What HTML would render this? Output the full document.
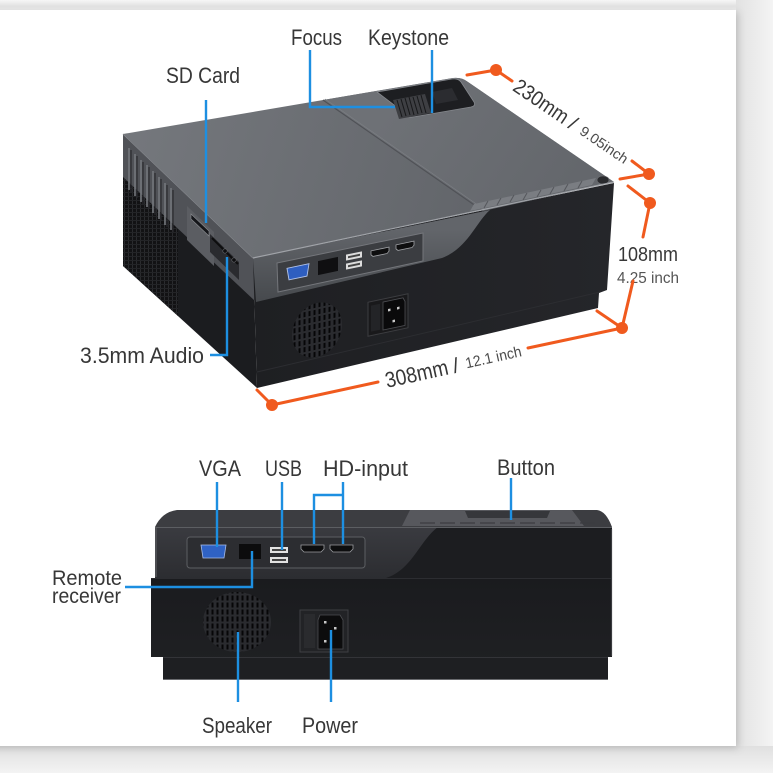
<!DOCTYPE html>
<html><head><meta charset="utf-8">
<style>
html,body{margin:0;padding:0;width:773px;height:773px;overflow:hidden;background:#f2f2f2;}
svg{position:absolute;left:0;top:0;display:block;}
text{font-family:"Liberation Sans",sans-serif;fill:#373737;}
</style></head><body>
<svg width="773" height="773" viewBox="0 0 773 773" xmlns="http://www.w3.org/2000/svg">
<defs>
  <linearGradient id="rstrip" x1="0" y1="0" x2="1" y2="0">
    <stop offset="0" stop-color="#e2e2e2"/><stop offset="1" stop-color="#f4f4f4"/>
  </linearGradient>
  <linearGradient id="bstrip" x1="0" y1="0" x2="0" y2="1">
    <stop offset="0" stop-color="#e0e0e0"/><stop offset="1" stop-color="#f3f3f3"/>
  </linearGradient>
  <linearGradient id="tstrip" x1="0" y1="0" x2="0" y2="1">
    <stop offset="0" stop-color="#f6f6f6"/><stop offset="0.5" stop-color="#e3e3e3"/><stop offset="1" stop-color="#f4f4f4"/>
  </linearGradient>
  <linearGradient id="topface" gradientUnits="userSpaceOnUse" x1="140" y1="120" x2="500" y2="230">
    <stop offset="0" stop-color="#74777c"/><stop offset="1" stop-color="#616469"/>
  </linearGradient>
  <linearGradient id="topface2" gradientUnits="userSpaceOnUse" x1="400" y1="90" x2="560" y2="200">
    <stop offset="0" stop-color="#6e7176"/><stop offset="1" stop-color="#64676c"/>
  </linearGradient>
  <linearGradient id="frontband" gradientUnits="userSpaceOnUse" x1="0" y1="230" x2="0" y2="300">
    <stop offset="0" stop-color="#62656a"/><stop offset="1" stop-color="#474a4e"/>
  </linearGradient>
  <linearGradient id="blackbody" gradientUnits="userSpaceOnUse" x1="250" y1="0" x2="615" y2="0">
    <stop offset="0" stop-color="#1e1f22"/><stop offset="1" stop-color="#25262a"/>
  </linearGradient>
  <linearGradient id="bband" gradientUnits="userSpaceOnUse" x1="0" y1="527" x2="0" y2="578">
    <stop offset="0" stop-color="#3a3b40"/><stop offset="1" stop-color="#2c2d31"/>
  </linearGradient>
  <linearGradient id="bbody" gradientUnits="userSpaceOnUse" x1="0" y1="578" x2="0" y2="680">
    <stop offset="0" stop-color="#1a1b1e"/><stop offset="1" stop-color="#202124"/>
  </linearGradient>
  <pattern id="grill" width="5" height="7" patternUnits="userSpaceOnUse">
    <rect x="0" y="0" width="5" height="7" fill="#2a2b2f"/>
    <rect x="1.5" y="0.5" width="2" height="5" fill="#060607"/>
  </pattern>
  <pattern id="grid" width="4" height="4" patternUnits="userSpaceOnUse">
    <rect width="4" height="4" fill="#121214"/>
    <rect x="0" y="0" width="1" height="4" fill="#2a2b2e"/>
    <rect x="0" y="0" width="4" height="1" fill="#232427"/>
  </pattern>
  <filter id="cardsh" x="-5%" y="-5%" width="110%" height="110%">
    <feDropShadow dx="2" dy="2" stdDeviation="4" flood-color="#000" flood-opacity="0.18"/>
  </filter>
</defs>

<!-- background strips / card -->
<rect x="0" y="0" width="773" height="773" fill="#f2f2f2"/>
<rect x="0" y="0" width="773" height="12" fill="url(#tstrip)"/>
<rect x="736" y="0" width="37" height="773" fill="url(#rstrip)"/>
<rect x="0" y="746" width="773" height="27" fill="url(#bstrip)"/>
<rect x="-12" y="10" width="748" height="736" fill="#ffffff" filter="url(#cardsh)"/>

<!-- ================= TOP PROJECTOR ================= -->
<!-- left face -->
<path d="M123,134 L253,258 L257,388 L123,266 Z" fill="#1b1c1f"/>
<path d="M123,177 L178,229 L178,316 L123,266 Z" fill="url(#grid)"/>
<path d="M123,134 L253,258 L256,302 L123,177 Z" fill="#505257"/>
<g stroke="#74777c" stroke-width="1.6">
  <line x1="129" y1="148" x2="129" y2="190"/>
  <line x1="135" y1="154" x2="135" y2="196"/>
  <line x1="141" y1="160" x2="141" y2="202"/>
  <line x1="147" y1="165" x2="147" y2="207"/>
  <line x1="153" y1="171" x2="153" y2="213"/>
  <line x1="159" y1="177" x2="159" y2="219"/>
  <line x1="165" y1="183" x2="165" y2="225"/>
  <line x1="171" y1="188" x2="171" y2="230"/>
</g>
<g stroke="#2a2b2e" stroke-width="1.2">
  <line x1="131" y1="150" x2="131" y2="192"/>
  <line x1="137" y1="156" x2="137" y2="198"/>
  <line x1="143" y1="162" x2="143" y2="204"/>
  <line x1="149" y1="167" x2="149" y2="209"/>
  <line x1="155" y1="173" x2="155" y2="215"/>
  <line x1="161" y1="179" x2="161" y2="221"/>
  <line x1="167" y1="185" x2="167" y2="227"/>
  <line x1="173" y1="190" x2="173" y2="232"/>
</g>
<!-- SD card area -->
<path d="M187,206 L214,232 L214,266 L187,240 Z" fill="#5b5d62"/>
<path d="M191,214 L209,231 L209,236 L191,219 Z" fill="#15161a" stroke="#8a8c90" stroke-width="0.6"/>
<path d="M210,234 L239,262 L239,280 L210,252 Z" fill="#2a2b2f"/>
<line x1="212" y1="238" x2="238" y2="264" stroke="#0d0d0e" stroke-width="2"/>
<circle cx="225" cy="251" r="2.2" fill="#0e0e10" stroke="#6a6c70" stroke-width="0.6"/>
<circle cx="234" cy="260" r="2.2" fill="#0e0e10" stroke="#6a6c70" stroke-width="0.6"/>
<line x1="123" y1="134" x2="253" y2="258" stroke="#8a8d92" stroke-width="1"/>

<!-- front face black body -->
<path d="M253,258 L614,183 L607,290 L599,293 L598,308 L257,388 Z" fill="url(#blackbody)"/>
<line x1="257" y1="372" x2="600" y2="292" stroke="#2c2d31" stroke-width="1"/>
<!-- front grey band -->
<path d="M253,258 L490,210 C476,222 468,248 442,258 L256,302 Z" fill="url(#frontband)"/>
<!-- port panel -->
<path d="M277,263 L423,233 L423,261 L278,292 Z" fill="#3b3d41" stroke="#74767b" stroke-width="1"/>
<g transform="translate(298,272) skewY(-11.8)">
  <path d="M-11,-6 L11,-6 L9,6 L-9,6 Z" fill="#2e5ec0" stroke="#b2c3e8" stroke-width="0.9"/>
</g>
<g transform="translate(328,266) skewY(-11.8)">
  <rect x="-10" y="-7" width="20" height="14" fill="#0f0f11"/>
</g>
<g transform="translate(354,261) skewY(-11.8)">
  <rect x="-8" y="-8" width="16" height="6" fill="#dcdcdc"/>
  <rect x="-6" y="-6" width="12" height="2" fill="#444"/>
  <rect x="-8" y="1" width="16" height="6" fill="#dcdcdc"/>
  <rect x="-6" y="3" width="12" height="2" fill="#444"/>
</g>
<g transform="translate(380,252) skewY(-11.8)">
  <path d="M-9,-3 L9,-3 L9,1 L7,3 L-7,3 L-9,1 Z" fill="#0e0e0f" stroke="#a0a2a6" stroke-width="0.8"/>
</g>
<g transform="translate(405,246) skewY(-11.8)">
  <path d="M-9,-3 L9,-3 L9,1 L7,3 L-7,3 L-9,1 Z" fill="#0e0e0f" stroke="#a0a2a6" stroke-width="0.8"/>
</g>
<!-- speaker grille top -->
<g transform="translate(317,330) skewY(-12)">
  <ellipse cx="0" cy="0" rx="25" ry="27" fill="url(#grill)"/>
</g>
<!-- power socket top -->
<g transform="translate(388,316) skewY(-12)">
  <rect x="-20" y="-18" width="40" height="34" fill="#19191b" stroke="#3c3d40" stroke-width="1"/>
  <rect x="-17" y="-14" width="9" height="26" fill="#232427"/>
  <path d="M-5,-15 L15,-15 L17,-11 L17,13 L-5,13 Z" fill="#0a0a0b" stroke="#4d4e52" stroke-width="0.8"/>
  <rect x="0" y="-7" width="2.5" height="2.5" fill="#c8c8c8"/>
  <rect x="9" y="-7" width="2.5" height="2.5" fill="#c8c8c8"/>
  <rect x="4.5" y="5" width="2.5" height="2.5" fill="#c8c8c8"/>
</g>

<!-- top face -->
<path d="M123,134 L453,78 Q462,77 468,82 L614,182 L253,258 Z" fill="url(#topface)"/>
<path d="M323,100 L453,78 Q462,77 468,82 L614,182 L483,211 Z" fill="url(#topface2)"/>
<line x1="323" y1="100" x2="483" y2="211" stroke="#505257" stroke-width="1.2"/>
<line x1="325" y1="99" x2="485" y2="210" stroke="#7c7f84" stroke-width="0.6"/>
<!-- lens recess -->
<path d="M377,92 L452,79 Q458,78 461,82 L474,102 Q476,106 471,107 L413,117 Q408,118 406,114 Z" fill="#1d1e21" stroke="#85888d" stroke-width="0.8"/>
<path d="M393,100 L425,94 L431,113 L399,119 Z" fill="#3e3f43"/>
<g stroke="#17181a" stroke-width="1">
  <line x1="397" y1="100" x2="402" y2="117"/>
  <line x1="401" y1="99" x2="406" y2="116"/>
  <line x1="405" y1="98" x2="410" y2="115"/>
  <line x1="409" y1="97" x2="414" y2="115"/>
  <line x1="413" y1="97" x2="418" y2="114"/>
  <line x1="417" y1="96" x2="422" y2="113"/>
  <line x1="421" y1="95" x2="426" y2="113"/>
</g>
<path d="M432,92 L452,88 L458,100 L436,104 Z" fill="#2b2c30"/>
<!-- button strip -->
<path d="M470,211 L592,185 L596,178 L474,204 Z" fill="#7a7d82"/>
<g stroke="#55575c" stroke-width="1">
  <line x1="484" y1="208" x2="488" y2="201"/>
  <line x1="497" y1="205" x2="501" y2="198"/>
  <line x1="510" y1="202" x2="514" y2="195"/>
  <line x1="523" y1="200" x2="527" y2="193"/>
  <line x1="537" y1="197" x2="541" y2="190"/>
  <line x1="550" y1="194" x2="554" y2="187"/>
  <line x1="564" y1="191" x2="568" y2="184"/>
  <line x1="578" y1="188" x2="582" y2="181"/>
</g>
<ellipse cx="603" cy="180" rx="6" ry="4" fill="#2a2b2e" stroke="#6e7075" stroke-width="0.6"/>
<line x1="253" y1="258" x2="614" y2="182" stroke="#a0a3a8" stroke-width="1.2"/>

<!-- top labels -->
<text x="291" y="45" font-size="22" textLength="51" lengthAdjust="spacingAndGlyphs">Focus</text>
<text x="368" y="45" font-size="22" textLength="81" lengthAdjust="spacingAndGlyphs">Keystone</text>
<text x="166" y="83" font-size="22" textLength="74" lengthAdjust="spacingAndGlyphs">SD Card</text>
<text x="80" y="363" font-size="22" textLength="124" lengthAdjust="spacingAndGlyphs">3.5mm Audio</text>
<text x="618" y="261" font-size="20" textLength="60" lengthAdjust="spacingAndGlyphs">108mm</text>
<text x="617" y="283" font-size="16" textLength="62" lengthAdjust="spacingAndGlyphs" style="fill:#555">4.25 inch</text>

<!-- blue leaders top -->
<g stroke="#1d8fe1" stroke-width="2.4" fill="none">
  <polyline points="310,50 310,107 395,107"/>
  <line x1="432" y1="50" x2="432" y2="113"/>
  <line x1="206" y1="100" x2="206" y2="223"/>
  <polyline points="210,355 227,355 227,257"/>
</g>

<!-- orange dimensions -->
<g stroke="#f05a1e" stroke-width="3" fill="none" stroke-linecap="round">
  <line x1="496" y1="70" x2="467" y2="75"/>
  <line x1="496" y1="70" x2="512" y2="81"/>
  <line x1="632" y1="161" x2="649" y2="174"/>
  <line x1="649" y1="174" x2="620" y2="179"/>
  <line x1="650" y1="203" x2="628" y2="186"/>
  <line x1="650" y1="203" x2="643" y2="237"/>
  <line x1="633" y1="281" x2="622" y2="328"/>
  <line x1="622" y1="328" x2="597" y2="311"/>
  <line x1="622" y1="328" x2="528" y2="348"/>
  <line x1="378" y1="382" x2="272" y2="405"/>
  <line x1="272" y1="405" x2="257" y2="390"/>
</g>
<g fill="#f05a1e">
  <circle cx="496" cy="70" r="6"/>
  <circle cx="649" cy="174" r="6"/>
  <circle cx="650" cy="203" r="6"/>
  <circle cx="622" cy="328" r="6"/>
  <circle cx="272" cy="405" r="6"/>
</g>
<g transform="translate(496,70) rotate(34.2)">
  <text x="24" y="7.5" font-size="21" textLength="62" lengthAdjust="spacingAndGlyphs">230mm</text>
  <text x="91" y="7.5" font-size="20">/</text>
  <text x="104" y="6" font-size="14" textLength="55" lengthAdjust="spacingAndGlyphs" style="fill:#4a4a4a">9.05inch</text>
</g>
<g transform="translate(272,405) rotate(-12.4)">
  <text x="116" y="8" font-size="22" textLength="64" lengthAdjust="spacingAndGlyphs">308mm</text>
  <text x="185" y="8" font-size="21">/</text>
  <text x="198" y="6" font-size="15" textLength="57" lengthAdjust="spacingAndGlyphs" style="fill:#4a4a4a">12.1 inch</text>
</g>

<!-- ================= BOTTOM PROJECTOR ================= -->
<!-- top sliver -->
<path d="M177,510 L597,510 Q606,511 612,527 L155,527 Q162,512 177,510 Z" fill="#3c3d41"/>
<path d="M410,510 L572,510 L584,526 L402,526 Z" fill="#57585d"/>
<path d="M465,511 L550,511 L547,518 L468,518 Z" fill="#36373b"/>
<g stroke="#3b3c40" stroke-width="1.2">
  <line x1="420" y1="523" x2="435" y2="523"/>
  <line x1="440" y1="523" x2="455" y2="523"/>
  <line x1="460" y1="523" x2="475" y2="523"/>
  <line x1="480" y1="523" x2="495" y2="523"/>
  <line x1="500" y1="523" x2="515" y2="523"/>
  <line x1="520" y1="523" x2="535" y2="523"/>
  <line x1="540" y1="523" x2="555" y2="523"/>
  <line x1="560" y1="523" x2="575" y2="523"/>
  <line x1="580" y1="523" x2="595" y2="523"/>
</g>
<!-- upper band -->
<rect x="155" y="527" width="457" height="51" fill="#1c1d20"/>
<path d="M155,527 L438,527 C420,540 412,570 386,578 L155,578 Z" fill="url(#bband)"/>
<line x1="156" y1="528" x2="156" y2="577" stroke="#55565a" stroke-width="1.5"/>
<line x1="155" y1="527.5" x2="612" y2="527.5" stroke="#5c5e62" stroke-width="1"/>
<!-- lower body -->
<rect x="151" y="578" width="461" height="79" fill="url(#bbody)"/>
<line x1="151" y1="578.5" x2="612" y2="578.5" stroke="#2c2d31" stroke-width="1"/>
<!-- base -->
<rect x="163" y="657" width="445" height="23" fill="#1e1f22"/>
<line x1="163" y1="657.5" x2="608" y2="657.5" stroke="#333438" stroke-width="1"/>
<line x1="163" y1="679.5" x2="608" y2="679.5" stroke="#6a6b6f" stroke-width="1"/>
<line x1="611.5" y1="529" x2="611.5" y2="656" stroke="#3a3b3f" stroke-width="1.2"/>

<!-- port panel -->
<rect x="187" y="537" width="178" height="31" rx="3" fill="#2c2d31" stroke="#5c5e62" stroke-width="1"/>
<path d="M201,545 L226,545 L224,558 L203,558 Z" fill="#2f62c4" stroke="#a9bde6" stroke-width="0.8"/>
<rect x="239" y="544" width="22" height="15" fill="#0c0c0d"/>
<rect x="270" y="547" width="18" height="6" fill="#e2e2e2"/>
<rect x="272" y="549" width="14" height="2" fill="#444"/>
<rect x="270" y="557" width="18" height="6" fill="#e2e2e2"/>
<rect x="272" y="559" width="14" height="2" fill="#444"/>
<path d="M301,545 L324,545 L324,549 L321,552 L304,552 L301,549 Z" fill="#0d0d0e" stroke="#9a9ca0" stroke-width="0.8"/>
<path d="M330,545 L353,545 L353,549 L350,552 L333,552 L330,549 Z" fill="#0d0d0e" stroke="#9a9ca0" stroke-width="0.8"/>
<!-- speaker grille bottom -->
<ellipse cx="237" cy="622" rx="34" ry="30" fill="url(#grill)"/>
<!-- power socket bottom -->
<rect x="300" y="610" width="48" height="42" fill="#222326" stroke="#3e3f43" stroke-width="1"/>
<rect x="304" y="614" width="11" height="34" fill="#2a2b2e"/>
<path d="M320,615 L340,615 L343,620 L343,649 L318,649 L318,620 Z" fill="#0c0c0d" stroke="#4b4c50" stroke-width="0.8"/>
<rect x="324" y="621" width="2.5" height="2.5" fill="#c8c8c8"/>
<rect x="334" y="627" width="2.5" height="2.5" fill="#c8c8c8"/>
<rect x="324" y="640" width="2.5" height="2.5" fill="#c8c8c8"/>

<!-- bottom labels -->
<text x="199" y="476" font-size="22" textLength="42" lengthAdjust="spacingAndGlyphs">VGA</text>
<text x="265" y="476" font-size="22" textLength="37" lengthAdjust="spacingAndGlyphs">USB</text>
<text x="323" y="476" font-size="22" textLength="85" lengthAdjust="spacingAndGlyphs">HD-input</text>
<text x="497" y="475" font-size="22" textLength="58" lengthAdjust="spacingAndGlyphs">Button</text>
<text x="52" y="585" font-size="21" textLength="70" lengthAdjust="spacingAndGlyphs">Remote</text>
<text x="52" y="603" font-size="21" textLength="69" lengthAdjust="spacingAndGlyphs">receiver</text>
<text x="202" y="733" font-size="22" textLength="70" lengthAdjust="spacingAndGlyphs">Speaker</text>
<text x="302" y="733" font-size="22" textLength="56" lengthAdjust="spacingAndGlyphs">Power</text>

<!-- blue leaders bottom -->
<g stroke="#1d8fe1" stroke-width="2.4" fill="none">
  <line x1="217" y1="482" x2="217" y2="547"/>
  <line x1="282" y1="482" x2="282" y2="550"/>
  <polyline points="343,482 343,544"/>
  <polyline points="343,495 314,495 314,544"/>
  <line x1="511" y1="478" x2="511" y2="520"/>
  <polyline points="125,587 252,587 252,551"/>
  <line x1="238" y1="632" x2="238" y2="702"/>
  <line x1="331" y1="630" x2="331" y2="702"/>
</g>
</svg>
</body></html>
